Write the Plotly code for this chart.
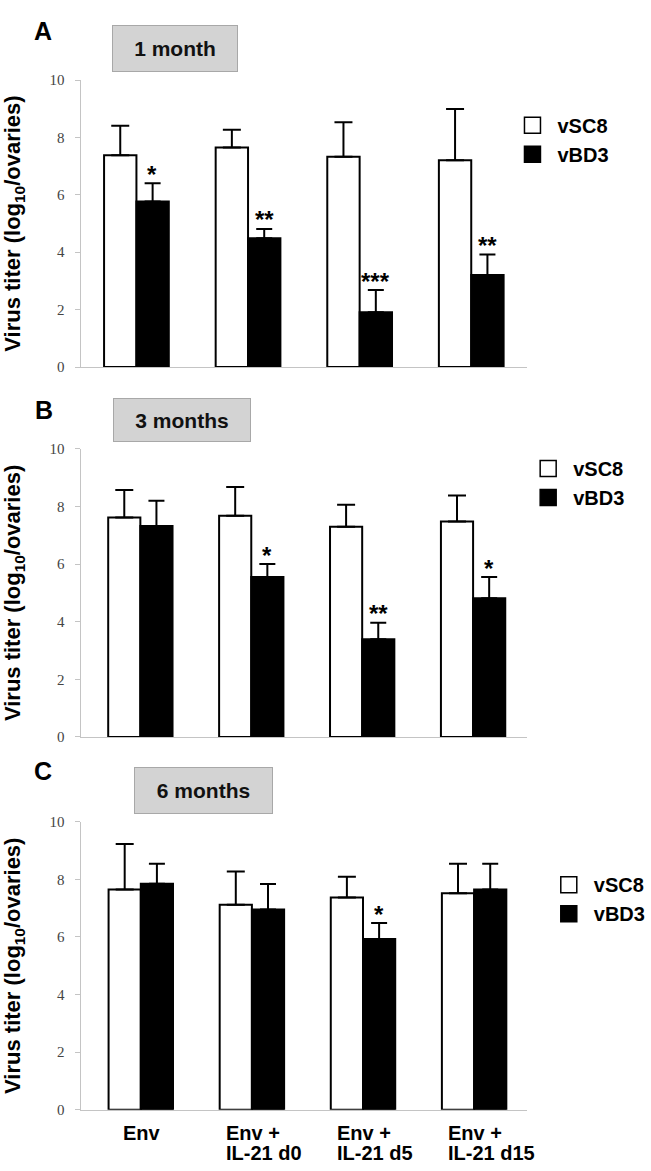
import plotly.graph_objects as go

# ---------------- data ----------------
groups = ["Env", "Env + IL-21 d0", "Env + IL-21 d5", "Env + IL-21 d15"]
label_line1 = ["Env", "Env +", "Env +", "Env +"]
label_line2 = ["", "IL-21 d0", "IL-21 d5", "IL-21 d15"]
series_names = ["vSC8", "vBD3"]
panel_letters = ["A", "B", "C"]
panel_titles = ["1 month", "3 months", "6 months"]
y_ticks = [0, 2, 4, 6, 8, 10]

# panel A (1 month)
a_vsc8 = [7.38, 7.65, 7.33, 7.20]
a_vsc8_err = [1.03, 0.62, 1.20, 1.79]
a_vbd3 = [5.77, 4.49, 1.91, 3.21]
a_vbd3_err = [0.63, 0.32, 0.77, 0.71]
a_stars = ["*", "**", "***", "**"]

# panel B (3 months)
b_vsc8 = [7.62, 7.68, 7.30, 7.48]
b_vsc8_err = [0.95, 1.00, 0.76, 0.90]
b_vbd3 = [7.32, 5.55, 3.39, 4.81]
b_vbd3_err = [0.88, 0.45, 0.57, 0.74]
b_stars = ["", "*", "**", "*"]

# panel C (6 months)
c_vsc8 = [7.65, 7.12, 7.37, 7.52]
c_vsc8_err = [1.58, 1.15, 0.72, 1.02]
c_vbd3 = [7.85, 6.95, 5.93, 7.65]
c_vbd3_err = [0.69, 0.89, 0.55, 0.89]
c_stars = ["", "", "*", ""]

panels = [
    (a_vsc8, a_vsc8_err, a_vbd3, a_vbd3_err, a_stars),
    (b_vsc8, b_vsc8_err, b_vbd3, b_vbd3_err, b_stars),
    (c_vsc8, c_vsc8_err, c_vbd3, c_vbd3_err, c_stars),
]

# ---------------- layout constants (pixels) ----------------
W, H = 651, 1171
SANS = "Liberation Sans, Arial, Helvetica, sans-serif"
SERIF = "Liberation Serif, Times New Roman, serif"
x_dom_px = (83, 537)
# (top, bottom) pixel rows of y=10 and y=0 in each panel
y_dom_px = [(73, 364), (447, 739), (825, 1117)]
x_ranges = [(-0.4925, 3.5005), (-0.531, 3.487), (-0.534, 3.477)]
title_box_px = [(178.5, 41, 126, 47), (185.5, 418, 138, 44), (207, 793.5, 139, 47)]
letter_px = [(43.5, 23.5), (45, 407.5), (43.5, 773.5)]
legend_px = [(517, 99), (533, 447), (554, 869)]


def px_x(p):
    return p / W


def px_y(p):
    return 1 - p / H


fig = go.Figure()

for i, (w_val, w_err, b_val, b_err, stars) in enumerate(panels):
    xa = "x" if i == 0 else f"x{i + 1}"
    ya = "y" if i == 0 else f"y{i + 1}"
    fig.add_trace(go.Bar(
        x=groups, y=w_val, name=series_names[0], xaxis=xa, yaxis=ya,
        marker=dict(color="white", line=dict(color="black", width=2)),
        error_y=dict(type="data", array=w_err, arrayminus=[0] * len(w_err),
                     symmetric=False, color="black", thickness=2, width=9),
        offsetgroup="w", showlegend=False,
    ))
    fig.add_trace(go.Bar(
        x=groups, y=b_val, name=series_names[1], xaxis=xa, yaxis=ya,
        marker=dict(color="black", line=dict(color="black", width=2)),
        error_y=dict(type="data", array=b_err, arrayminus=[0] * len(b_err),
                     symmetric=False, color="black", thickness=2, width=8),
        offsetgroup="b", showlegend=False,
    ))
    # legend proxies
    lg = "legend" if i == 0 else f"legend{i + 1}"
    fig.add_trace(go.Scatter(
        x=[None], y=[None], mode="markers", name=series_names[0], legend=lg,
        xaxis=xa, yaxis=ya,
        marker=dict(symbol="square", size=16, color="white",
                    line=dict(color="black", width=1.5)),
    ))
    fig.add_trace(go.Scatter(
        x=[None], y=[None], mode="markers", name=series_names[1], legend=lg,
        xaxis=xa, yaxis=ya,
        marker=dict(symbol="square", size=16, color="black",
                    line=dict(color="black", width=1.5)),
    ))
    # significance stars above the vBD3 bars
    for g, s, v, e in zip(groups, stars, b_val, b_err):
        if s:
            fig.add_annotation(
                x=g, y=v + e, xref=xa, yref=ya, text=s, showarrow=False,
                xanchor="center", yanchor="middle", yshift=9, xshift=16,
                font=dict(family=SANS, size=24, color="black", weight="bold"),
            )

    top, bot = y_dom_px[i]
    axis_common = dict(
        domain=[px_x(x_dom_px[0]), px_x(x_dom_px[1])],
        type="category", range=list(x_ranges[i]),
        showline=True, linecolor="#c4c4c4", linewidth=1,
        ticks="", showticklabels=False, showgrid=False, zeroline=False,
        anchor=ya, fixedrange=True,
    )
    yaxis_common = dict(
        domain=[px_y(bot), px_y(top)], range=[0, 10],
        tickvals=y_ticks, ticktext=[str(t) for t in y_ticks],
        showline=True, linecolor="#c4c4c4", linewidth=1,
        ticks="outside", ticklen=5, tickcolor="#c4c4c4", tickwidth=1,
        ticklabelstandoff=8,
        tickfont=dict(family=SERIF, size=15, color="#444444"),
        showgrid=False, zeroline=False, anchor=xa, fixedrange=True,
        title=dict(text="Virus titer (log<sub>10</sub>/ovaries)", standoff=26,
                   font=dict(family=SANS, size=22, color="black", weight="bold")),
    )
    fig.update_layout(**{
        ("xaxis" if i == 0 else f"xaxis{i + 1}"): axis_common,
        ("yaxis" if i == 0 else f"yaxis{i + 1}"): yaxis_common,
    })

    # title box
    cx, cy, bw, bh = title_box_px[i]
    fig.add_annotation(
        x=px_x(cx), y=px_y(cy), xref="paper", yref="paper",
        text=panel_titles[i], showarrow=False, xanchor="center", yanchor="middle",
        width=bw - 2, height=bh - 2, borderpad=0,
        bgcolor="#d3d3d3", bordercolor="#a8a8a8", borderwidth=1,
        font=dict(family=SANS, size=21, color="#111111", weight="bold"),
    )
    # panel letter
    lx, ly = letter_px[i]
    fig.add_annotation(
        x=px_x(lx), y=px_y(ly), xref="paper", yref="paper",
        text=panel_letters[i], showarrow=False, xanchor="center", yanchor="middle",
        font=dict(family=SANS, size=25, color="black", weight="bold"),
    )
    # legend
    lgx, lgy = legend_px[i]
    fig.update_layout(**{lg: dict(
        x=px_x(lgx), y=px_y(lgy), xanchor="left", yanchor="top",
        xref="paper", yref="paper",
        bgcolor="rgba(0,0,0,0)", borderwidth=0, itemwidth=40,
        font=dict(family=SANS, size=20, color="black", weight="bold"),
        itemclick=False, itemdoubleclick=False,
    )})

# x category labels under panel C (left-aligned two-line labels)
for g, l1, l2 in zip(groups, label_line1, label_line2):
    fig.add_annotation(
        x=g, y=0, xref="x3", yref="y3", text=l1, showarrow=False,
        xanchor="left", yanchor="top", xshift=-28 if l2 else -20, yshift=-10,
        font=dict(family=SANS, size=20, color="black", weight="bold"),
    )
    if l2:
        fig.add_annotation(
            x=g, y=0, xref="x3", yref="y3", text=l2, showarrow=False,
            xanchor="left", yanchor="top", xshift=-28, yshift=-30,
            font=dict(family=SANS, size=20, color="black", weight="bold"),
        )

fig.update_layout(
    width=W, height=H,
    margin=dict(l=0, r=0, t=0, b=0),
    paper_bgcolor="white", plot_bgcolor="white",
    barmode="group", bargap=0.42, bargroupgap=0,
    showlegend=True, hovermode=False,
)

fig.write_html(
    "out.html",
    config={"displayModeBar": False, "staticPlot": False},
    post_script="document.body.style.margin='0px';document.body.style.overflow='hidden';",
)
